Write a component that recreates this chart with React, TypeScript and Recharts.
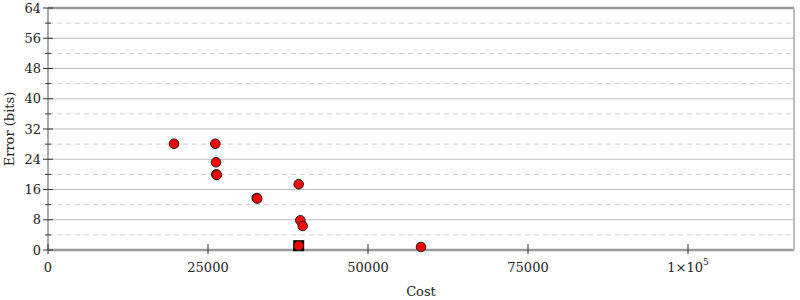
import { ReferenceLine, Scatter, ScatterChart, XAxis, YAxis } from 'recharts'

// cost / error pairs
const costs = [19690, 26140, 26250, 26300, 26380, 32610, 32700, 39170, 39420, 39800, 39170, 58280]
const errors = [28.1, 28.1, 23.2, 20.0, 19.85, 13.75, 13.6, 17.4, 7.85, 6.35, 1.14, 0.8]

// the highlighted (best) point, drawn as a black square
const bestCost = [39170]
const bestError = [1.14]

const yTicks = [0, 4, 8, 12, 16, 20, 24, 28, 32, 36, 40, 44, 48, 52, 56, 60, 64]
const xTicks = [0, 25000, 50000, 75000, 100000]

const points = costs.map((cost, i) => ({ cost, error: errors[i] }))
const best = bestCost.map((cost, i) => ({ cost, error: bestError[i] }))

const FONT = "'DejaVu Serif', serif"
const FS = 13

const gridStyle = (v: number) => {
  if (v === 0 || v === 64) return null
  if (v === 32) return { stroke: '#dcdcdc', strokeWidth: 2 }
  if (v % 8 === 0) return { stroke: '#bbb', strokeWidth: 1 }
  return { stroke: '#ccc', strokeWidth: 1, strokeDasharray: '5 4' }
}

const LeftTick = (props: any) => {
  const { x, y, payload } = props
  const major = payload.value % 8 === 0
  const len = major ? 5 : 3
  return (
    <g>
      <line x1={x - len} x2={x + len} y1={y} y2={y} stroke="#333" strokeWidth={1} />
      {major && (
        <text x={x - 7} y={y} textAnchor="end" dominantBaseline="central" fontFamily={FONT} fontSize={FS} fill="#222">
          {payload.value}
        </text>
      )}
    </g>
  )
}

const RightTick = (props: any) => {
  const { x, y, payload } = props
  const major = payload.value % 8 === 0
  const len = major ? 5.5 : 3
  return <line x1={x - len} x2={x + len} y1={y} y2={y} stroke="#333" strokeWidth={1} />
}

const BottomTick = (props: any) => {
  const { x, y, payload } = props
  const v = payload.value
  return (
    <g>
      <line x1={x} x2={x} y1={y - 6} y2={y + 4} stroke="#333" strokeWidth={1} />
      <text x={x} y={y + 17} textAnchor="middle" dominantBaseline="central" fontFamily={FONT} fontSize={FS} fill="#222">
        {v >= 100000 ? (
          <>
            <tspan>1×10</tspan>
            <tspan dy={-5} fontSize={9}>5</tspan>
          </>
        ) : (
          v
        )}
      </text>
    </g>
  )
}

const Dot = (props: any) => {
  const { cx, cy } = props
  return <circle cx={cx} cy={cy} r={4.8} fill="#ff0000" stroke="#222" strokeWidth={1} />
}

const Square = (props: any) => {
  const { cx, cy } = props
  return <rect x={cx - 5.5} y={cy - 5.5} width={11} height={11} fill="#000" />
}

export default function App() {
  return (
    <div style={{ position: 'absolute', left: 0, top: 0, width: 800, height: 300, background: '#fff' }}>
      <ScatterChart width={800} height={300} margin={{ top: 8, right: 0, left: 0, bottom: 0 }}>
        {yTicks.map((v) => {
          const s = gridStyle(v)
          return s ? <ReferenceLine key={v} y={v} yAxisId="left" {...s} /> : null
        })}
        <ReferenceLine y={64} yAxisId="left" stroke="#999" strokeWidth={2.5} />
        <XAxis
          type="number"
          dataKey="cost"
          domain={[0, (max: number) => max * 2]}
          ticks={xTicks}
          height={50}
          tickSize={0}
          tickMargin={0}
          tickLine={false}
          axisLine={{ stroke: '#999', strokeWidth: 2.5 }}
          tick={<BottomTick />}
          label={{
            content: ({ viewBox }: any) => (
              <text
                x={viewBox.x + viewBox.width / 2}
                y={viewBox.y + 41}
                textAnchor="middle"
                dominantBaseline="central"
                fontFamily={FONT}
                fontSize={FS}
                fill="#222"
              >
                Cost
              </text>
            ),
          }}
        />
        <YAxis
          yAxisId="left"
          type="number"
          dataKey="error"
          domain={[0, 64]}
          ticks={yTicks}
          interval={0}
          width={48}
          tickSize={0}
          tickMargin={0}
          tickLine={false}
          axisLine={{ stroke: '#aaa', strokeWidth: 2 }}
          tick={<LeftTick />}
          label={{
            content: ({ viewBox }: any) => {
              const cx = 9
              const cy = viewBox.y + viewBox.height / 2
              return (
                <text
                  x={cx}
                  y={cy}
                  transform={`rotate(-90 ${cx} ${cy})`}
                  textAnchor="middle"
                  dominantBaseline="central"
                  fontFamily={FONT}
                  fontSize={FS}
                  fill="#222"
                >
                  Error (bits)
                </text>
              )
            },
          }}
        />
        <YAxis
          yAxisId="right"
          orientation="right"
          type="number"
          domain={[0, 64]}
          ticks={yTicks}
          interval={0}
          width={6}
          tickSize={0}
          tickMargin={0}
          tickLine={false}
          axisLine={{ stroke: '#bbb', strokeWidth: 2 }}
          tick={<RightTick />}
        />
        <Scatter yAxisId="left" data={best} shape={<Square />} isAnimationActive={false} />
        <Scatter yAxisId="left" data={points} shape={<Dot />} isAnimationActive={false} />
      </ScatterChart>
    </div>
  )
}
